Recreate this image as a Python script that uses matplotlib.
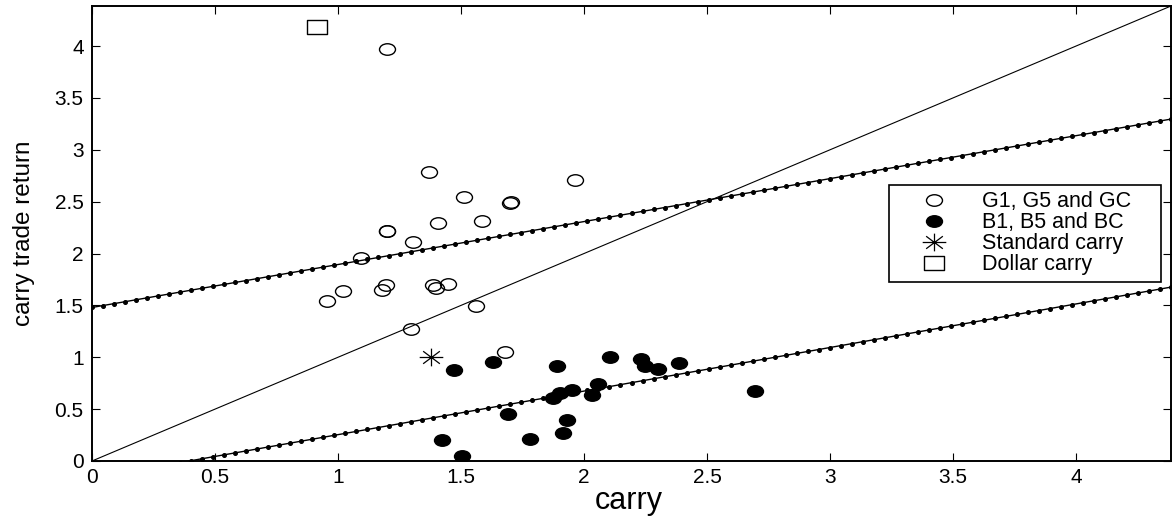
import numpy as np
import matplotlib.pyplot as plt
from matplotlib.path import Path

plt.rcParams['font.family'] = ['Liberation Sans', 'DejaVu Sans']

# G1, G5 and GC portfolios (open circles)
good_carry = [1.200, 1.369, 1.965, 1.511, 1.699, 1.702, 1.407, 1.584, 1.198, 1.201,
              1.305, 1.095, 0.954, 1.020, 1.179, 1.196, 1.385, 1.398, 1.446, 1.562,
              1.296, 1.679]
good_ret = [3.97, 2.786, 2.705, 2.544, 2.490, 2.493, 2.293, 2.316, 2.215, 2.219,
            2.109, 1.958, 1.546, 1.643, 1.652, 1.697, 1.697, 1.669, 1.703, 1.491,
            1.269, 1.046]

# B1, B5 and BC portfolios (filled circles)
bad_carry = [1.470, 1.629, 1.890, 2.106, 2.230, 2.248, 2.300, 2.387, 2.695, 2.056,
             2.034, 1.952, 1.904, 1.875, 1.690, 1.932, 1.916, 1.780, 1.423, 1.504]
bad_ret = [0.879, 0.953, 0.911, 0.998, 0.979, 0.911, 0.889, 0.940, 0.673, 0.744,
           0.638, 0.689, 0.657, 0.612, 0.451, 0.393, 0.274, 0.209, 0.203, 0.045]

standard_carry = [1.378]
standard_ret = [1.005]
dollar_carry = [0.916]
dollar_ret = [4.187]

# fitted lines (intercept, slope)
upper_fit = (1.48, 0.414)
lower_fit = (-0.166, 0.42)

legend_labels = ['G1, G5 and GC', 'B1, B5 and BC', 'Standard carry', 'Dollar carry']

lim = 4.386


def squash(verts, codes, sy):
    v = np.array(verts, dtype=float)
    v[:, 1] *= sy
    return Path(v, codes)


# markers look a bit wider than tall in the original
circ = Path.unit_circle()
circle_m = squash(circ.vertices, circ.codes, 0.72)
square_m = squash([(-1, -1), (1, -1), (1, 1), (-1, 1), (-1, -1)],
                  [Path.MOVETO, Path.LINETO, Path.LINETO, Path.LINETO, Path.CLOSEPOLY], 0.7)
c = 0.707
star_m = squash([(-1, 0), (1, 0), (0, -1), (0, 1), (-c, -c), (c, c), (-c, c), (c, -c)],
                [Path.MOVETO, Path.LINETO] * 4, 0.75)

fig = plt.figure(figsize=(11.75, 5.18), dpi=100)
ax = fig.add_axes([92 / 1175, 57 / 518, 1079 / 1175, 455 / 518])

xs = np.linspace(0, lim, 99)
ax.plot([0, lim], [0, lim], color='k', lw=0.8)
ax.plot(xs, upper_fit[0] + upper_fit[1] * xs, color='k', lw=1.0,
        marker='o', ms=2.6, mfc='k', mec='k')
ax.plot(xs, lower_fit[0] + lower_fit[1] * xs, color='k', lw=1.0,
        marker='o', ms=2.6, mfc='k', mec='k')

h1, = ax.plot(good_carry, good_ret, ls='none', marker=circle_m, ms=11.5,
              mfc='none', mec='k', mew=1.0)
h2, = ax.plot(bad_carry, bad_ret, ls='none', marker=circle_m, ms=11.5,
              mfc='k', mec='k', mew=1.0)
h3, = ax.plot(standard_carry, standard_ret, ls='none', marker=star_m, ms=17,
              mfc='none', mec='k', mew=0.9)
h4, = ax.plot(dollar_carry, dollar_ret, ls='none', marker=square_m, ms=14.5,
              mfc='none', mec='k', mew=1.0)

ax.set_xlim(0, lim)
ax.set_ylim(0, lim)
ax.set_xticks(np.arange(0, 4.01, 0.5))
ax.set_yticks(np.arange(0, 4.01, 0.5))
ax.set_xticklabels(['0', '0.5', '1', '1.5', '2', '2.5', '3', '3.5', '4'])
ax.set_yticklabels(['0', '0.5', '1', '1.5', '2', '2.5', '3', '3.5', '4'])
ax.tick_params(direction='in', top=True, right=True, length=6, width=0.8,
               labelsize=15)
ax.tick_params(axis='x', pad=5)
ax.tick_params(axis='y', pad=6)
for s in ax.spines.values():
    s.set_linewidth(1.4)

ax.set_xlabel('carry', fontsize=22)
ax.xaxis.set_label_coords(0.497, -0.055)
ax.set_ylabel('carry trade return', fontsize=17.5)
ax.yaxis.set_label_coords(-0.053, 0.5)

leg = ax.legend([h1, h2, h3, h4], legend_labels, loc='upper left',
                bbox_to_anchor=(889 / 1175, 1 - 185 / 518, 272 / 1175, 0.0),
                bbox_transform=fig.transFigure, mode='expand', borderaxespad=0,
                fontsize=15.5, numpoints=1, fancybox=False, framealpha=1,
                edgecolor='k', borderpad=0.3, handlelength=3.6,
                handletextpad=0.4, labelspacing=0.0)
leg.get_frame().set_linewidth(1.2)

fig.savefig('out.png', dpi=100)
